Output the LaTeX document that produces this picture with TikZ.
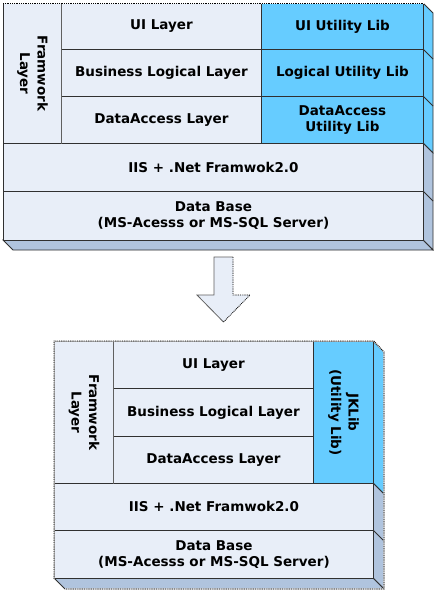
\documentclass[tikz,border=0pt]{standalone}
\usepackage{fontspec}
\setmainfont{DejaVu Sans}
\usetikzlibrary{positioning}
\definecolor{cellfill}{HTML}{E8EEF8}
\definecolor{libfill}{HTML}{66CCFF}
\definecolor{sidefill}{HTML}{B0C4DE}
\definecolor{edge}{HTML}{303030}
\definecolor{inner}{HTML}{606060}
\tikzset{
  cell/.style={draw=edge, line width=0.9pt, fill=cellfill, inner sep=0pt, anchor=north west,
    font=\bfseries\fontsize{13.5}{16}\selectfont, align=center},
  lib/.style={cell, fill=libfill},
  vtxt/.style={rotate=-90, align=center, font=\bfseries\fontsize{13.5}{17.5}\selectfont, inner sep=0pt},
  sideface/.style={draw=edge, line width=0.8pt, fill=sidefill},
  libface/.style={draw=edge, line width=0.8pt, fill=libfill},
  dotedge/.style={line width=0.9pt, dash pattern=on 0.9pt off 0.9pt, draw=black},
  whiteedge/.style={line width=1.2pt, draw=white},
}
\begin{document}
\begin{tikzpicture}[x=1pt,y=-1pt]
\useasboundingbox (0,0) rectangle (437,592);
\fill[white] (0,0) rectangle (437,592);
% ===== Diagram 1 =====
\path[libface] (423,3) -- (433,13) -- (433,153) -- (423,143) -- cycle;
\path[sideface] (423,143) -- (433,153) -- (433,250) -- (423,240) -- cycle;
\path[sideface] (3,240) -- (423,240) -- (433,250) -- (13,250) -- cycle;
\draw[edge, line width=0.8pt] (423,49) -- (433,59) (423,96) -- (433,106) (423,191) -- (433,201);
\node[cell, minimum width=58pt, minimum height=140pt] (fwA) at (3,3) {};
\node[vtxt] (fwAt) at (fwA.center) {Framwork\\Layer};
\node[cell, minimum width=200pt, minimum height=46pt] (uiA) at (61,3) {UI Layer};
\node[cell, minimum width=200pt, minimum height=47pt] (blA) at (61,49) {Business Logical Layer};
\node[cell, minimum width=200pt, minimum height=47pt] (daA) at (61,96) {DataAccess Layer};
\node[lib, minimum width=162pt, minimum height=46pt] (uulA) at (261,3) {UI Utility Lib};
\node[lib, minimum width=162pt, minimum height=47pt] (lulA) at (261,49) {Logical Utility Lib};
\node[lib, minimum width=162pt, minimum height=47pt] (dulA) at (261,96) {DataAccess\\Utility Lib};
\node[cell, minimum width=420pt, minimum height=48pt] (iisA) at (3,143) {IIS + .Net Framwok2.0};
\node[cell, minimum width=420pt, minimum height=49pt] (dbA) at (3,191) {Data Base\\(MS-Acesss or MS-SQL Server)};
\draw[inner, line width=0.9pt] (fwA.north east) -- (fwA.south east);
\draw[whiteedge] (fwA.north west) -- (uulA.north east);
\draw[dotedge] (fwA.north west) -- (uulA.north east);
% ===== Arrow =====
\fill[cellfill] (214,257) -- (233,257) -- (233,295) -- (250,295) -- (223.5,322) -- (197,295) -- (214,295) -- cycle;
\draw[inner, line width=0.8pt] (233,257) -- (214,257) -- (214,295) -- (197,295) -- (223.5,322);
\draw[dotedge, line width=0.8pt] (233,257) -- (233,295) -- (250,295) -- (223.5,322);
% ===== Diagram 2 =====
\path[libface] (373,341) -- (384,352) -- (384,494) -- (373,483) -- cycle;
\path[sideface] (373,483) -- (384,494) -- (384,589) -- (373,578) -- cycle;
\path[sideface] (54,578) -- (373,578) -- (384,589) -- (65,589) -- cycle;
\draw[edge, line width=0.8pt] (373,530) -- (384,541);
\node[cell, minimum width=59pt, minimum height=142pt] (fwB) at (54,341) {};
\node[vtxt] (fwBt) at (fwB.center) {Framwork\\Layer};
\node[cell, minimum width=200pt, minimum height=47pt] (uiB) at (113,341) {UI Layer};
\node[cell, minimum width=200pt, minimum height=48pt] (blB) at (113,388) {Business Logical Layer};
\node[cell, minimum width=200pt, minimum height=47pt] (daB) at (113,436) {DataAccess Layer};
\node[lib, minimum width=60pt, minimum height=142pt] (jkB) at (313,341) {};
\node[vtxt] (jkBt) at (jkB.center) {JKLib\\(Utility Lib)};
\node[cell, minimum width=319pt, minimum height=47pt] (iisB) at (54,483) {IIS + .Net Framwok2.0};
\node[cell, minimum width=319pt, minimum height=48pt] (dbB) at (54,530) {Data Base\\(MS-Acesss or MS-SQL Server)};
\draw[inner, line width=0.9pt] (fwB.north east) -- (fwB.south east);
\draw[whiteedge] (dbB.south west) -- (fwB.north west) -- (jkB.north east) -- (384,352) -- (384,589) -- (65,589);
\draw[dotedge] (dbB.south west) -- (fwB.north west) -- (jkB.north east) -- (384,352) -- (384,589) -- (65,589);
\end{tikzpicture}
\end{document}
